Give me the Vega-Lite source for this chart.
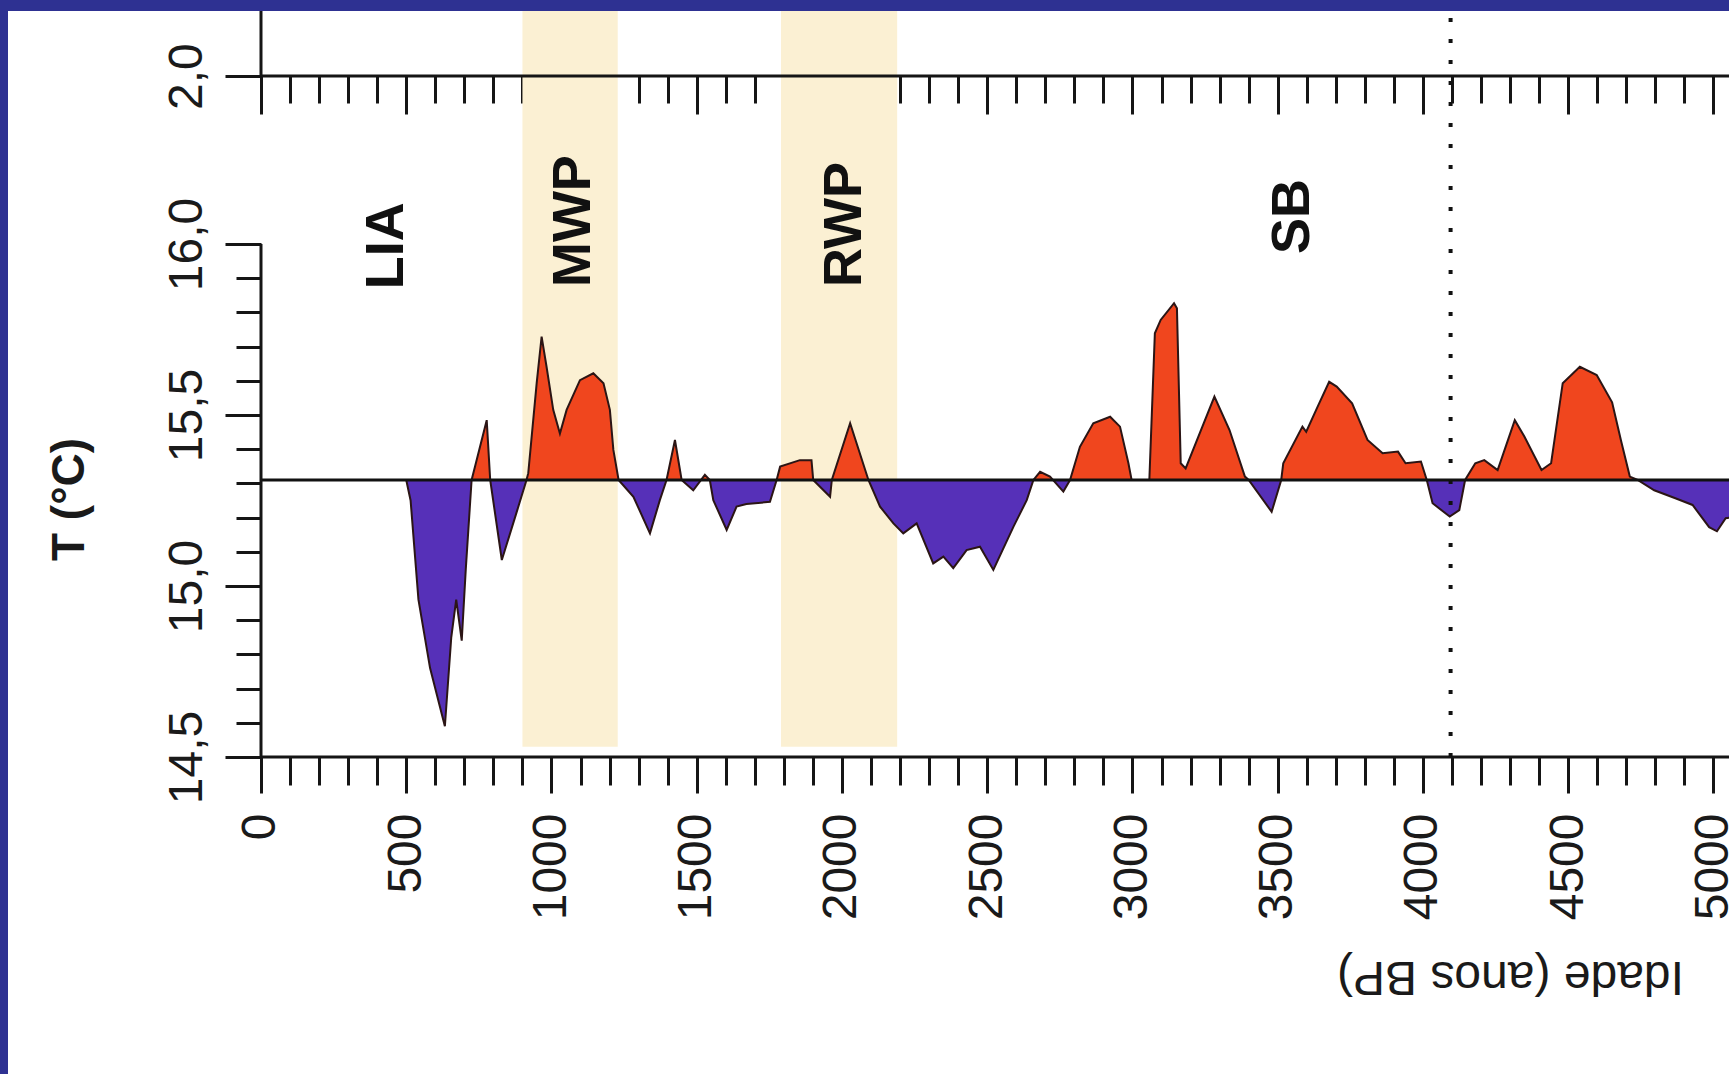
{
  "$schema": "https://vega.github.io/schema/vega-lite/v6.json",
  "width": 1721,
  "height": 1063,
  "autosize": {"type": "none"},
  "padding": {"left": 8, "top": 11, "right": 0, "bottom": 0},
  "background": "#2E3192",
  "config": {
    "view": {"fill": "white", "stroke": null},
    "axis": {"grid": false, "domain": false, "tickColor": "#151515", "tickWidth": 3, "labelFont": "Liberation Sans", "labelColor": "#1a1a1a", "titleFont": "Liberation Sans", "titleColor": "#1a1a1a"}
  },
  "datasets": {
    "temp": [
      {"age": 0, "t": 15.31}, {"age": 500, "t": 15.31}, {"age": 515, "t": 15.25}, {"age": 542, "t": 14.96},
      {"age": 582, "t": 14.76}, {"age": 633, "t": 14.59}, {"age": 655, "t": 14.85}, {"age": 672, "t": 14.96},
      {"age": 691, "t": 14.84}, {"age": 705, "t": 15.05}, {"age": 725, "t": 15.31}, {"age": 737, "t": 15.35},
      {"age": 777, "t": 15.485}, {"age": 789, "t": 15.31}, {"age": 829, "t": 15.076}, {"age": 879, "t": 15.213},
      {"age": 914, "t": 15.31}, {"age": 920, "t": 15.33}, {"age": 949, "t": 15.593}, {"age": 966, "t": 15.729},
      {"age": 983, "t": 15.641}, {"age": 1006, "t": 15.515}, {"age": 1029, "t": 15.446}, {"age": 1052, "t": 15.515},
      {"age": 1098, "t": 15.602}, {"age": 1144, "t": 15.622}, {"age": 1179, "t": 15.593}, {"age": 1201, "t": 15.515},
      {"age": 1213, "t": 15.398}, {"age": 1231, "t": 15.31}, {"age": 1282, "t": 15.261}, {"age": 1339, "t": 15.154},
      {"age": 1373, "t": 15.251}, {"age": 1396, "t": 15.31}, {"age": 1425, "t": 15.427}, {"age": 1448, "t": 15.31},
      {"age": 1488, "t": 15.28}, {"age": 1528, "t": 15.325}, {"age": 1545, "t": 15.31}, {"age": 1557, "t": 15.251},
      {"age": 1603, "t": 15.164}, {"age": 1637, "t": 15.232}, {"age": 1671, "t": 15.24}, {"age": 1752, "t": 15.246},
      {"age": 1775, "t": 15.31}, {"age": 1787, "t": 15.349}, {"age": 1855, "t": 15.368}, {"age": 1895, "t": 15.368},
      {"age": 1901, "t": 15.31}, {"age": 1959, "t": 15.261}, {"age": 1965, "t": 15.31}, {"age": 2028, "t": 15.476},
      {"age": 2091, "t": 15.31}, {"age": 2131, "t": 15.232}, {"age": 2177, "t": 15.183}, {"age": 2211, "t": 15.154},
      {"age": 2257, "t": 15.183}, {"age": 2314, "t": 15.066}, {"age": 2349, "t": 15.086}, {"age": 2383, "t": 15.052},
      {"age": 2429, "t": 15.105}, {"age": 2475, "t": 15.115}, {"age": 2521, "t": 15.047}, {"age": 2590, "t": 15.173},
      {"age": 2636, "t": 15.251}, {"age": 2659, "t": 15.31}, {"age": 2682, "t": 15.334}, {"age": 2716, "t": 15.32},
      {"age": 2762, "t": 15.276}, {"age": 2785, "t": 15.31}, {"age": 2819, "t": 15.407}, {"age": 2865, "t": 15.476},
      {"age": 2923, "t": 15.495}, {"age": 2957, "t": 15.466}, {"age": 2986, "t": 15.359}, {"age": 2997, "t": 15.31},
      {"age": 3058, "t": 15.31}, {"age": 3077, "t": 15.739}, {"age": 3097, "t": 15.778}, {"age": 3143, "t": 15.827},
      {"age": 3153, "t": 15.812}, {"age": 3166, "t": 15.359}, {"age": 3183, "t": 15.344}, {"age": 3282, "t": 15.554},
      {"age": 3334, "t": 15.456}, {"age": 3387, "t": 15.32}, {"age": 3400, "t": 15.31}, {"age": 3479, "t": 15.217},
      {"age": 3512, "t": 15.31}, {"age": 3519, "t": 15.359}, {"age": 3585, "t": 15.466}, {"age": 3598, "t": 15.451},
      {"age": 3637, "t": 15.524}, {"age": 3677, "t": 15.597}, {"age": 3703, "t": 15.583}, {"age": 3756, "t": 15.534},
      {"age": 3809, "t": 15.427}, {"age": 3861, "t": 15.388}, {"age": 3914, "t": 15.393}, {"age": 3940, "t": 15.359},
      {"age": 3993, "t": 15.364}, {"age": 4013, "t": 15.31}, {"age": 4033, "t": 15.242}, {"age": 4092, "t": 15.203},
      {"age": 4125, "t": 15.222}, {"age": 4145, "t": 15.31}, {"age": 4180, "t": 15.359}, {"age": 4211, "t": 15.368},
      {"age": 4257, "t": 15.339}, {"age": 4316, "t": 15.485}, {"age": 4349, "t": 15.437}, {"age": 4408, "t": 15.339},
      {"age": 4441, "t": 15.359}, {"age": 4481, "t": 15.593}, {"age": 4540, "t": 15.641}, {"age": 4598, "t": 15.617},
      {"age": 4651, "t": 15.537}, {"age": 4682, "t": 15.424}, {"age": 4712, "t": 15.32}, {"age": 4739, "t": 15.31},
      {"age": 4796, "t": 15.28}, {"age": 4871, "t": 15.256}, {"age": 4928, "t": 15.237}, {"age": 4985, "t": 15.172},
      {"age": 5012, "t": 15.16}, {"age": 5042, "t": 15.198}, {"age": 5060, "t": 15.2}
    ]
  },
  "resolve": {"axis": {"x": "independent", "y": "independent"}},
  "layer": [
    {
      "data": {"values": [
        {"period": "MWP", "start": 900, "end": 1228, "top": 16.6813, "bottom": 14.53},
        {"period": "RWP", "start": 1790, "end": 2190, "top": 16.6813, "bottom": 14.53}
      ]},
      "mark": {"type": "rect", "color": "#FBF0D3"},
      "encoding": {
        "x": {"field": "start", "type": "quantitative",
          "scale": {"domain": [-870.9, 5053.4], "nice": false, "zero": false},
          "axis": {"orient": "bottom", "offset": -317, "values": [0, 500, 1000, 1500, 2000, 2500, 3000, 3500, 4000, 4500, 5000],
            "format": "d",
            "tickSize": 36, "labelAngle": 270, "labelFontSize": 48, "labelPadding": 20, "labelOverlap": false, "labelFlush": false, "labelBound": false,
            "title": "Idade (anos BP)", "titleFontSize": 48, "titleFontWeight": "normal", "titleAngle": 180,
            "titleX": 1502, "titleY": 218, "titleAlign": "center", "titleBaseline": "middle"}},
        "x2": {"field": "end"},
        "y": {"field": "top", "type": "quantitative",
          "scale": {"domain": [13.5731, 16.6813], "nice": false, "zero": false},
          "axis": {"orient": "left", "offset": -253, "values": [14.5, 15, 15.5, 16], "tickSize": 36,
            "labelAngle": 270, "labelAlign": "center", "labelBaseline": "bottom", "labelFontSize": 48, "labelPadding": 14,
            "labelExpr": "replace(format(datum.value, '.1f'), '.', ',')",
            "title": "T (°C)", "titleFontSize": 46, "titleFontWeight": "bold", "titleAngle": 270,
            "titleX": -192, "titleY": 488, "titleAlign": "center", "titleBaseline": "middle"}},
        "y2": {"field": "bottom"}
      }
    },
    {
      "data": {"name": "temp"},
      "mark": {"type": "area", "clip": true, "interpolate": "linear",
        "fill": {"gradient": "linear", "x1": 0, "y1": 0, "x2": 0, "y2": 1,
          "stops": [
            {"offset": 0, "color": "#F0461E"},
            {"offset": 0.41795, "color": "#F0461E"},
            {"offset": 0.41795, "color": "#5630B8"},
            {"offset": 1, "color": "#5630B8"}
          ]}},
      "encoding": {
        "x": {"field": "age", "type": "quantitative",
          "scale": {"domain": [-870.9, 5053.4], "nice": false, "zero": false},
          "axis": {"orient": "bottom", "offset": -317,
            "values": [100, 200, 300, 400, 600, 700, 800, 900, 1100, 1200, 1300, 1400, 1600, 1700, 1800, 1900, 2100, 2200, 2300, 2400, 2600, 2700, 2800, 2900, 3100, 3200, 3300, 3400, 3600, 3700, 3800, 3900, 4100, 4200, 4300, 4400, 4600, 4700, 4800, 4900],
            "tickSize": 28, "labels": false, "title": null}},
        "y": {"field": "t", "type": "quantitative",
          "scale": {"domain": [13.5731, 16.6813], "nice": false, "zero": false},
          "axis": {"orient": "left", "offset": -253,
            "values": [14.6, 14.7, 14.8, 14.9, 15.1, 15.2, 15.3, 15.4, 15.6, 15.7, 15.8, 15.9],
            "tickSize": 25, "labels": false, "title": null}},
        "y2": {"datum": 15.31}
      }
    },
    {
      "data": {"name": "temp"},
      "mark": {"type": "line", "clip": true, "interpolate": "linear", "color": "#2B1515", "strokeWidth": 2},
      "encoding": {
        "x": {"field": "age", "type": "quantitative",
          "scale": {"domain": [-870.9, 5053.4], "nice": false, "zero": false},
          "axis": {"orient": "bottom", "offset": -998, "values": [0, 500, 1000, 1500, 2000, 2500, 3000, 3500, 4000, 4500, 5000],
            "tickSize": 38, "labels": false, "title": null}},
        "y": {"field": "t", "type": "quantitative",
          "scale": {"domain": [13.5731, 16.6813], "nice": false, "zero": false},
          "axis": {"orient": "left", "offset": -253, "values": [16.491], "tickSize": 36,
            "labelAngle": 270, "labelAlign": "center", "labelBaseline": "bottom", "labelFontSize": 48, "labelPadding": 14,
            "labelExpr": "'2,0'", "title": null}}
      }
    },
    {
      "data": {"values": [{"from": 0, "to": 5060, "level": 15.31}]},
      "mark": {"type": "rule", "clip": true, "color": "#111111", "strokeWidth": 3},
      "encoding": {
        "x": {"field": "from", "type": "quantitative",
          "scale": {"domain": [-870.9, 5053.4], "nice": false, "zero": false},
          "axis": {"orient": "bottom", "offset": -998,
            "values": [100, 200, 300, 400, 600, 700, 800, 900, 1100, 1200, 1300, 1400, 1600, 1700, 1800, 1900, 2100, 2200, 2300, 2400, 2600, 2700, 2800, 2900, 3100, 3200, 3300, 3400, 3600, 3700, 3800, 3900, 4100, 4200, 4300, 4400, 4600, 4700, 4800, 4900],
            "tickSize": 27, "labels": false, "title": null}},
        "x2": {"field": "to"},
        "y": {"field": "level", "type": "quantitative",
          "scale": {"domain": [13.5731, 16.6813], "nice": false, "zero": false}, "axis": null}
      }
    },
    {
      "data": {"values": [
        {"line": "bottom axis", "from": 0, "to": 5060, "level": 14.5},
        {"line": "top axis", "from": 0, "to": 5060, "level": 16.491}
      ]},
      "mark": {"type": "rule", "clip": true, "color": "#151515", "strokeWidth": 3},
      "encoding": {
        "x": {"field": "from", "type": "quantitative", "scale": {"domain": [-870.9, 5053.4], "nice": false, "zero": false}, "axis": null},
        "x2": {"field": "to"},
        "y": {"field": "level", "type": "quantitative", "scale": {"domain": [13.5731, 16.6813], "nice": false, "zero": false}, "axis": null}
      }
    },
    {
      "data": {"values": [
        {"line": "y axis", "at": 0, "lo": 14.5, "hi": 16.0},
        {"line": "upper y axis", "at": 0, "lo": 16.491, "hi": 16.6813}
      ]},
      "mark": {"type": "rule", "clip": true, "color": "#151515", "strokeWidth": 3},
      "encoding": {
        "x": {"field": "at", "type": "quantitative", "scale": {"domain": [-870.9, 5053.4], "nice": false, "zero": false}, "axis": null},
        "y": {"field": "lo", "type": "quantitative", "scale": {"domain": [13.5731, 16.6813], "nice": false, "zero": false}, "axis": null},
        "y2": {"field": "hi"}
      }
    },
    {
      "data": {"values": [{"line": "boundary", "at": 4095, "lo": 14.5, "hi": 16.6813}]},
      "mark": {"type": "rule", "clip": true, "color": "#111111", "strokeWidth": 4, "strokeDash": [4, 17]},
      "encoding": {
        "x": {"field": "at", "type": "quantitative", "scale": {"domain": [-870.9, 5053.4], "nice": false, "zero": false}, "axis": null},
        "y": {"field": "lo", "type": "quantitative", "scale": {"domain": [13.5731, 16.6813], "nice": false, "zero": false}, "axis": null},
        "y2": {"field": "hi"}
      }
    },
    {
      "data": {"values": [
        {"label": "LIA", "age": 434, "t": 15.868},
        {"label": "MWP", "age": 1077, "t": 15.874},
        {"label": "RWP", "age": 2010, "t": 15.874},
        {"label": "SB", "age": 3552, "t": 15.971}
      ]},
      "mark": {"type": "text", "angle": 270, "align": "left", "baseline": "middle", "font": "Liberation Sans", "fontWeight": "bold", "fontSize": 54, "color": "#111111"},
      "encoding": {
        "x": {"field": "age", "type": "quantitative", "scale": {"domain": [-870.9, 5053.4], "nice": false, "zero": false}, "axis": null},
        "y": {"field": "t", "type": "quantitative", "scale": {"domain": [13.5731, 16.6813], "nice": false, "zero": false}, "axis": null},
        "text": {"field": "label"}
      }
    }
  ]
}
